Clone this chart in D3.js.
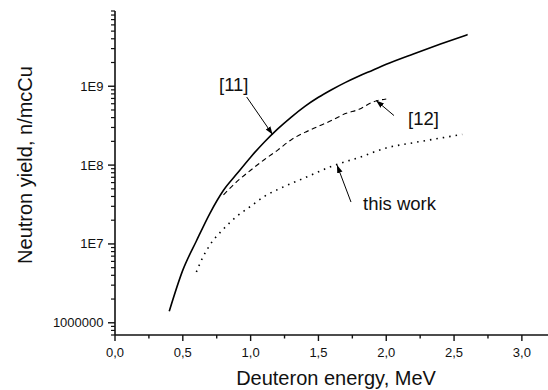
<!DOCTYPE html>
<html>
<head>
<meta charset="utf-8">
<script src="https://cdn.jsdelivr.net/npm/d3@7"></script>
<style>
  body { margin: 0; background: #fff; }
  svg text { font-family: "Liberation Sans", Arial, sans-serif; fill: #111; }
</style>
</head>
<body>
<div id="chart"></div>
<script>
// energy (MeV) / neutron yield (n/mcCu)
var refE11 = [0.4, 0.5, 0.6, 0.7, 0.8, 0.9, 1.0, 1.1, 1.2, 1.3, 1.4, 1.5, 1.6, 1.7, 1.8, 1.9, 2.0, 2.2, 2.4, 2.6];
var refY11 = [1.4e6, 4.65e6, 1.09e7, 2.45e7, 4.8e7, 7.8e7, 1.26e8, 1.95e8, 2.88e8, 4.07e8, 5.56e8, 7.24e8, 9.1e8, 1.12e9, 1.35e9, 1.6e9, 1.9e9, 2.57e9, 3.43e9, 4.52e9];

var refE12 = [0.8, 0.9, 1.0, 1.1, 1.2, 1.3, 1.4, 1.5, 1.6, 1.7, 1.8, 1.9, 2.0];
var refY12 = [4.2e7, 6.2e7, 8.6e7, 1.17e8, 1.55e8, 2.1e8, 2.6e8, 3.1e8, 3.7e8, 4.5e8, 5.1e8, 6.3e8, 6.9e8];

var workE = [0.6, 0.65, 0.7, 0.8, 0.9, 1.0, 1.1, 1.2, 1.4, 1.6, 1.8, 2.0, 2.2, 2.4, 2.56];
var workY = [4.4e6, 6.9e6, 9.7e6, 1.55e7, 2.25e7, 3.0e7, 4.0e7, 4.9e7, 6.9e7, 9.7e7, 1.25e8, 1.65e8, 1.92e8, 2.2e8, 2.45e8];

var xTicks = [0, 0.5, 1.0, 1.5, 2.0, 2.5, 3.0];
var yTicks = [1e6, 1e7, 1e8, 1e9];
var yTickLabels = ["1000000", "1E7", "1E8", "1E9"];

var width = 548, height = 390;

var svg = d3.select("#chart").append("svg")
    .attr("width", width)
    .attr("height", height);

var x = d3.scaleLinear().domain([0, 3.2]).range([115, 549]);
var y = d3.scaleLog().domain([7e5, 9e9]).range([335, 11]);

// minor ticks
var xMinor = d3.range(0.25, 3.2, 0.5);
var yMinor = [];
[1e5, 1e6, 1e7, 1e8, 1e9].forEach(function (p) {
  for (var k = 2; k <= 9; k++) {
    var v = k * p;
    if (v >= 7e5 && v <= 9e9) yMinor.push(v);
  }
});

// x axis
var xAxis = svg.append("g").attr("transform", "translate(0,335)");
xAxis.append("line")
    .attr("x1", 115).attr("x2", 549)
    .attr("stroke", "#111").attr("stroke-width", 1.6);
xAxis.selectAll(".xmaj").data(xTicks).enter().append("line")
    .attr("x1", function (d) { return x(d); }).attr("x2", function (d) { return x(d); })
    .attr("y1", 0).attr("y2", 6)
    .attr("stroke", "#111").attr("stroke-width", 1.4);
xAxis.selectAll(".xmin").data(xMinor).enter().append("line")
    .attr("x1", function (d) { return x(d); }).attr("x2", function (d) { return x(d); })
    .attr("y1", 0).attr("y2", 3.5)
    .attr("stroke", "#111").attr("stroke-width", 1.4);
xAxis.selectAll(".xlab").data(xTicks).enter().append("text")
    .attr("x", function (d) { return x(d); })
    .attr("y", 21.5)
    .attr("text-anchor", "middle")
    .style("font-size", "13px")
    .text(function (d) { return d.toFixed(1).replace(".", ","); });

// y axis
var yAxis = svg.append("g");
yAxis.append("line")
    .attr("x1", 115).attr("x2", 115)
    .attr("y1", 11).attr("y2", 335)
    .attr("stroke", "#111").attr("stroke-width", 1.6);
yAxis.selectAll(".ymaj").data(yTicks).enter().append("line")
    .attr("x1", 108).attr("x2", 115)
    .attr("y1", function (d) { return y(d); }).attr("y2", function (d) { return y(d); })
    .attr("stroke", "#111").attr("stroke-width", 1.4);
yAxis.selectAll(".ymin").data(yMinor).enter().append("line")
    .attr("x1", 111).attr("x2", 115)
    .attr("y1", function (d) { return y(d); }).attr("y2", function (d) { return y(d); })
    .attr("stroke", "#111").attr("stroke-width", 1.2);
yAxis.selectAll(".ylab").data(yTicks).enter().append("text")
    .attr("x", 103.5)
    .attr("y", function (d) { return y(d); })
    .attr("dy", "0.35em")
    .attr("text-anchor", "end")
    .style("font-size", "13px")
    .text(function (d, i) { return yTickLabels[i]; });

// axis titles
svg.append("text")
    .attr("x", 336).attr("y", 385)
    .attr("text-anchor", "middle")
    .style("font-size", "20px")
    .text("Deuteron energy, MeV");
svg.append("text")
    .attr("transform", "translate(31.5,165) rotate(-90)")
    .attr("text-anchor", "middle")
    .style("font-size", "20px")
    .text("Neutron yield, n/mcCu");

// curves
var line = d3.line()
    .x(function (d) { return x(d[0]); })
    .y(function (d) { return y(d[1]); })
    .curve(d3.curveMonotoneX);

svg.append("path")
    .datum(d3.zip(refE11, refY11))
    .attr("d", line)
    .attr("fill", "none").attr("stroke", "#000").attr("stroke-width", 1.6);
svg.append("path")
    .datum(d3.zip(refE12, refY12))
    .attr("d", line)
    .attr("fill", "none").attr("stroke", "#000").attr("stroke-width", 1.1)
    .attr("stroke-dasharray", "5,3.5");
svg.append("path")
    .datum(d3.zip(workE, workY))
    .attr("d", line)
    .attr("fill", "none").attr("stroke", "#000").attr("stroke-width", 1.6)
    .attr("stroke-dasharray", "1.5,5");

// annotations (positions in data units)
svg.append("defs").append("marker")
    .attr("id", "arr")
    .attr("viewBox", "0 0 10 10")
    .attr("refX", 10).attr("refY", 5)
    .attr("markerWidth", 8).attr("markerHeight", 8)
    .attr("markerUnits", "userSpaceOnUse")
    .attr("orient", "auto")
    .append("path").attr("d", "M0,1.5 L10,5 L0,8.5 Z").attr("fill", "#000");

var notes = [
  { text: "[11]", tx: 0.767, ty: 8.6e8, x0: 0.971, y0: 7.3e8, x1: 1.162, y1: 2.44e8 },
  { text: "[12]", tx: 2.161, ty: 3.27e8, x0: 2.057, y0: 4.25e8, x1: 1.925, y1: 6.6e8 },
  { text: "this work", tx: 1.829, ty: 2.67e7, x0: 1.740, y0: 3.4e7, x1: 1.637, y1: 1.0e8 }
];

svg.selectAll(".arrow").data(notes).enter().append("line")
    .attr("x1", function (d) { return x(d.x0); })
    .attr("y1", function (d) { return y(d.y0); })
    .attr("x2", function (d) { return x(d.x1); })
    .attr("y2", function (d) { return y(d.y1); })
    .attr("stroke", "#000").attr("stroke-width", 1)
    .attr("marker-end", "url(#arr)");

svg.selectAll(".note").data(notes).enter().append("text")
    .attr("x", function (d) { return x(d.tx); })
    .attr("y", function (d) { return y(d.ty); })
    .style("font-size", "18.5px")
    .text(function (d) { return d.text; });
</script>
</body>
</html>
